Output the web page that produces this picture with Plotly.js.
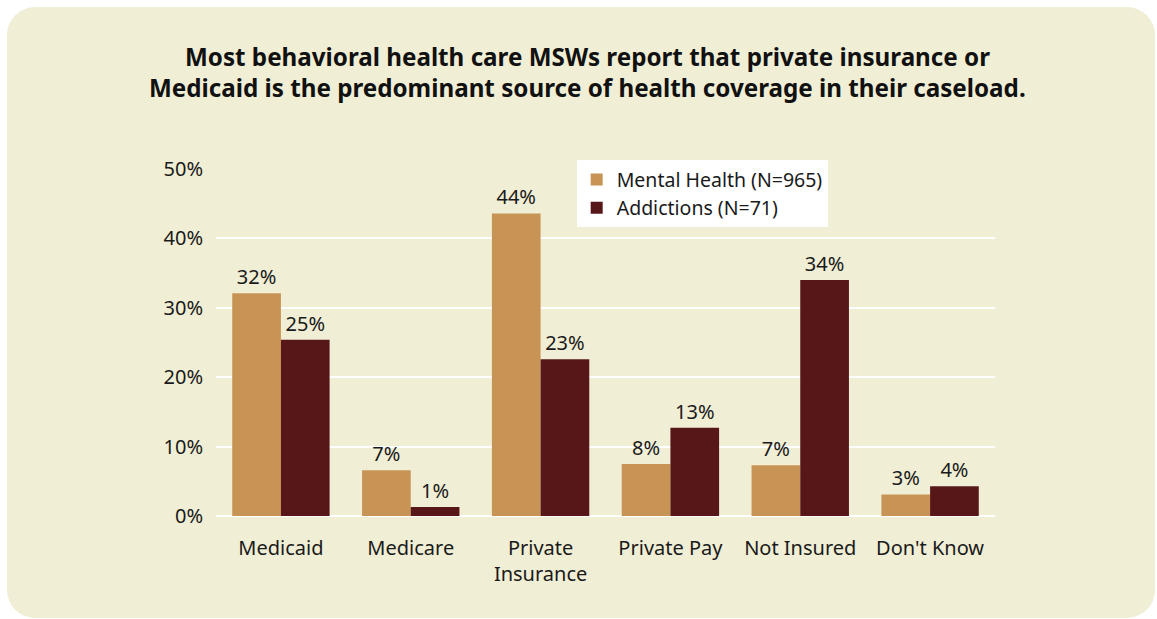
<!DOCTYPE html>
<html>
<head>
<meta charset="utf-8">
<script src="https://cdn.plot.ly/plotly-3.0.1.min.js"></script>
<style>
  html, body { margin: 0; padding: 0; background: #ffffff; }
  #card {
    position: absolute; left: 7px; top: 7px;
    width: 1148px; height: 611px;
    background: #f0eed5; border-radius: 28px;
  }
  #myPlot { position: absolute; left: 0; top: 0; width: 1157px; height: 619px; }
</style>
</head>
<body>
<div id="card"></div>
<div id="myPlot"></div>
<script>
// categories and values
const categories = ["Medicaid", "Medicare", "Private<br>Insurance", "Private Pay", "Not Insured", "Don't Know"];
const mentalHealth = [32.1, 6.6, 43.6, 7.5, 7.3, 3.1];
const addictions = [25.4, 1.3, 22.6, 12.7, 34.0, 4.3];
const mentalLabels = ["32%", "7%", "44%", "8%", "7%", "3%"];
const addictLabels = ["25%", "1%", "23%", "13%", "34%", "4%"];
const yTicks = [0, 10, 20, 30, 40, 50];
const titleLines = [
  "Most behavioral health care MSWs report that private insurance or",
  "Medicaid is the predominant source of health coverage in their caseload."
];

const colors = {
  tan: "#c89456",
  maroon: "#571719",
  ink: "#1a1a1a"
};

const font = "'Noto Sans', 'Open Sans', sans-serif";

const data = [
  {
    type: "bar",
    name: "Mental Health (N=965)",
    x: categories,
    y: mentalHealth,
    text: mentalLabels,
    textposition: "outside",
    textfont: { size: 20, color: colors.ink, family: font },
    cliponaxis: false,
    marker: { color: colors.tan },
    hoverinfo: "none"
  },
  {
    type: "bar",
    name: "Addictions (N=71)",
    x: categories,
    y: addictions,
    text: addictLabels,
    textposition: "outside",
    textfont: { size: 20, color: colors.ink, family: font },
    cliponaxis: false,
    marker: { color: colors.maroon },
    hoverinfo: "none"
  }
];

// title as two lines placed by hand so the line spacing matches
const titleAnnotations = titleLines.map((line, i) => ({
  text: "<b>" + line + "</b>",
  xref: "paper",
  yref: "paper",
  x: 0.4763,
  y: i === 0 ? 1.3228 : 1.2363,
  xanchor: "center",
  yanchor: "middle",
  showarrow: false,
  font: { size: 24.2, color: "#111111", family: font }
}));

const layout = {
  width: 1157,
  height: 619,
  paper_bgcolor: "rgba(0,0,0,0)",
  plot_bgcolor: "rgba(0,0,0,0)",
  margin: { l: 216, r: 162, t: 169, b: 103 },
  font: { family: font, size: 20, color: colors.ink },
  annotations: titleAnnotations,
  barmode: "group",
  bargap: 0.25,
  bargroupgap: 0,
  showlegend: true,
  legend: {
    x: 0.463,
    y: 1.025,
    xanchor: "left",
    yanchor: "top",
    bgcolor: "#ffffff",
    font: { size: 19.5, color: colors.ink, family: font },
    itemwidth: 30,
    tracegroupgap: 0
  },
  xaxis: {
    tickfont: { size: 20, color: colors.ink },
    showgrid: false,
    zeroline: false,
    showline: false,
    ticks: "",
    ticklabelstandoff: 18
  },
  yaxis: {
    range: [0, 50],
    tickvals: yTicks,
    ticktext: yTicks.map(v => v + "%"),
    tickfont: { size: 20, color: colors.ink },
    showgrid: true,
    gridcolor: "#ffffff",
    gridwidth: 2,
    zeroline: true,
    zerolinecolor: "#ffffff",
    zerolinewidth: 2,
    showline: false,
    ticks: "",
    ticklabelstandoff: 12
  }
};

Plotly.newPlot("myPlot", data, layout, { displayModeBar: false, staticPlot: true });
</script>
</body>
</html>
